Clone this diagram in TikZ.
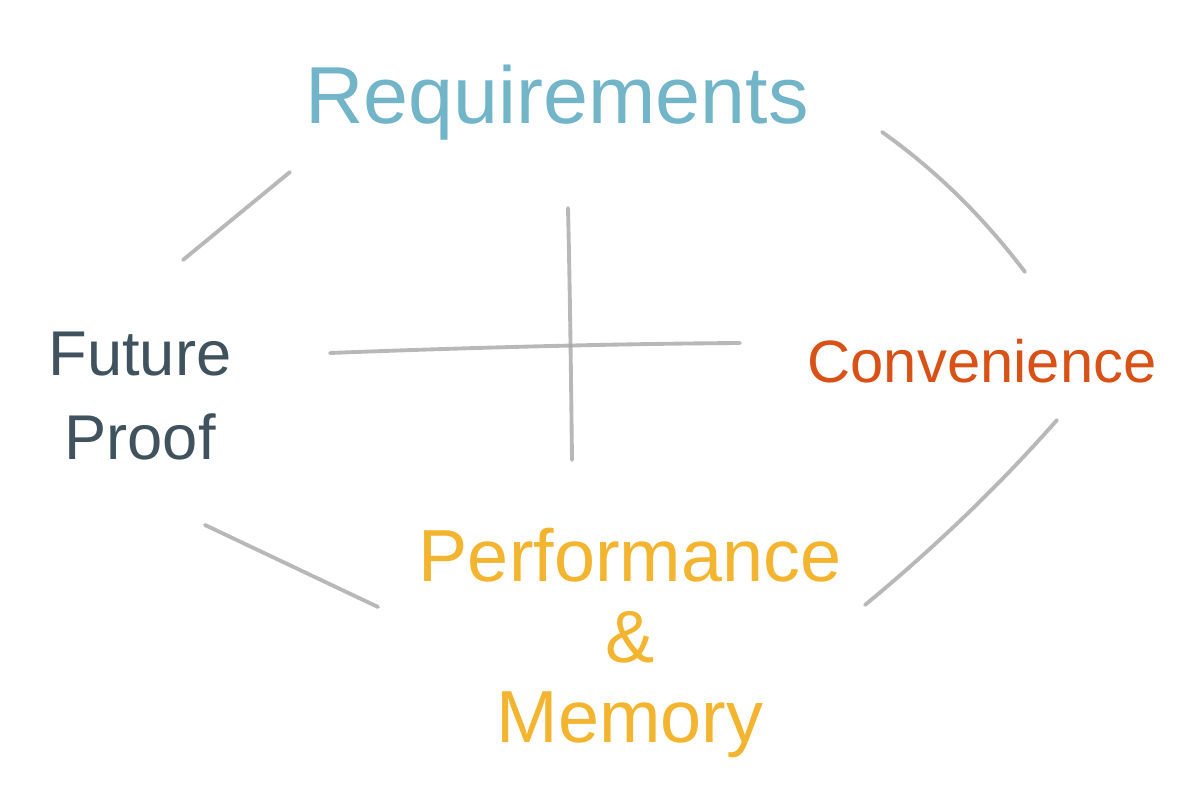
\documentclass[tikz,border=0pt]{standalone}
\usepackage{fontspec}
\setmainfont{Liberation Sans}
\usetikzlibrary{calc}
\definecolor{reqblue}{HTML}{72B5C8}
\definecolor{convorange}{HTML}{D85116}
\definecolor{futslate}{HTML}{3F525E}
\definecolor{perfyellow}{HTML}{F3B52F}
\tikzset{
  sketch/.style={gray!70,line width=1.1pt,line cap=round,opacity=0.8},
  label/.style={inner sep=0pt,align=center}
}
\begin{document}
\begin{tikzpicture}
\useasboundingbox (0,0) rectangle (11.92,7.91);
% the four labels
\node[label,reqblue,font=\fontsize{23}{26}\selectfont] (R) at (5.57,6.88) {Requirements};
\node[label,convorange,font=\fontsize{17}{20}\selectfont] (C) at (9.82,4.30) {Convenience};
\node[label,futslate,font=\fontsize{18}{24}\selectfont] (F) at (1.40,3.95) {Future\\Proof};
\node[label,perfyellow,font=\fontsize{21}{23}\selectfont] (P) at (6.30,1.48) {Performance\\\&\\Memory};
% end points of the strokes
\coordinate (A1) at (1.83,5.31);
\coordinate (A2) at (2.90,6.19);
\coordinate (B1) at (8.82,6.59);
\coordinate (B2) at (10.25,5.19);
\coordinate (C1) at (10.57,3.71);
\coordinate (C2) at (8.65,1.86);
\coordinate (D1) at (2.05,2.66);
\coordinate (D2) at (3.78,1.84);
\coordinate (V1) at (5.68,5.83);
\coordinate (V2) at (5.72,3.31);
\coordinate (H1) at (3.30,4.38);
\coordinate (H2) at (7.40,4.48);
\draw[sketch] (A1)--(A2);
\draw[sketch] (B1) .. controls (9.37,6.20) and (9.84,5.73) .. (B2);
\draw[sketch] (C1) .. controls (9.98,3.04) and (9.34,2.43) .. (C2);
\draw[sketch] (D1)--(D2);
\draw[sketch] (V1) .. controls (5.70,4.99) and (5.71,4.15) .. (V2);
\draw[sketch] (H1) .. controls (4.60,4.43) and (6.00,4.47) .. (H2);
\end{tikzpicture}
\end{document}
